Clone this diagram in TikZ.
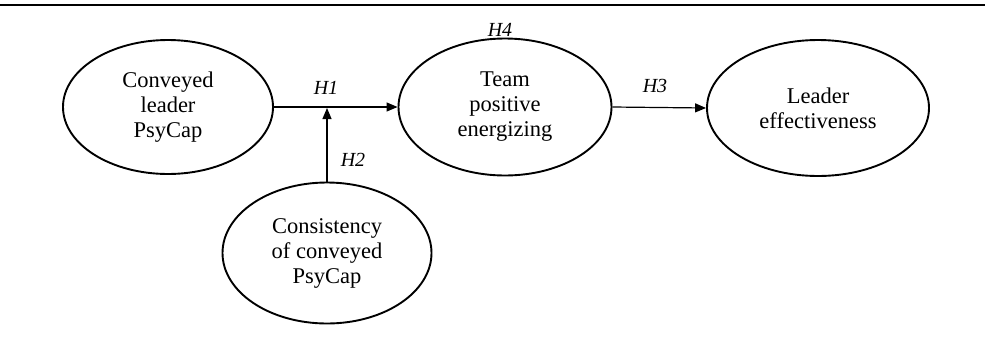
\documentclass[tikz,border=0pt]{standalone}
\usepackage{fontspec}
\setmainfont{Liberation Serif}
\usetikzlibrary{shapes.geometric,arrows.meta}
\begin{document}
\begin{tikzpicture}[x=1pt,y=-1pt,
  var/.style={draw, ellipse, line width=1.9pt, inner sep=0pt, align=center,
    font=\fontsize{22.5}{25}\selectfont},
  arr/.style={line width=1.2pt, -{Triangle[length=11pt,width=9pt]}},
  hyp/.style={font=\fontsize{20}{22}\selectfont\itshape, inner sep=0pt}]
\useasboundingbox (0,0) rectangle (985,338);
\draw[line width=1.8pt] (0,5) -- (985,5);
\node[var, minimum width=210, minimum height=134] (a) at (168,107) {Conveyed\\leader\\PsyCap};
\node[var, minimum width=213, minimum height=137] (b) at (505,107) {Team\\positive\\energizing};
\node[var, minimum width=222, minimum height=136] (c) at (818,108) {Leader\\effectiveness};
\node[var, minimum width=209, minimum height=141] (d) at (327,253) {Consistency\\of conveyed\\PsyCap};
\coordinate (j) at (326,108);
\draw[arr] (a.east) -- (b.west);
\draw[arr] (d.north) -- (d.north |- j);
\draw[arr] (b.east) -- (c.west);
\node[hyp] (h1) at (326,88) {H1};
\node[hyp] (h2) at (353,160) {H2};
\node[hyp] (h3) at (655,86) {H3};
\node[hyp] (h4) at (500,30) {H4};
\end{tikzpicture}
\end{document}
